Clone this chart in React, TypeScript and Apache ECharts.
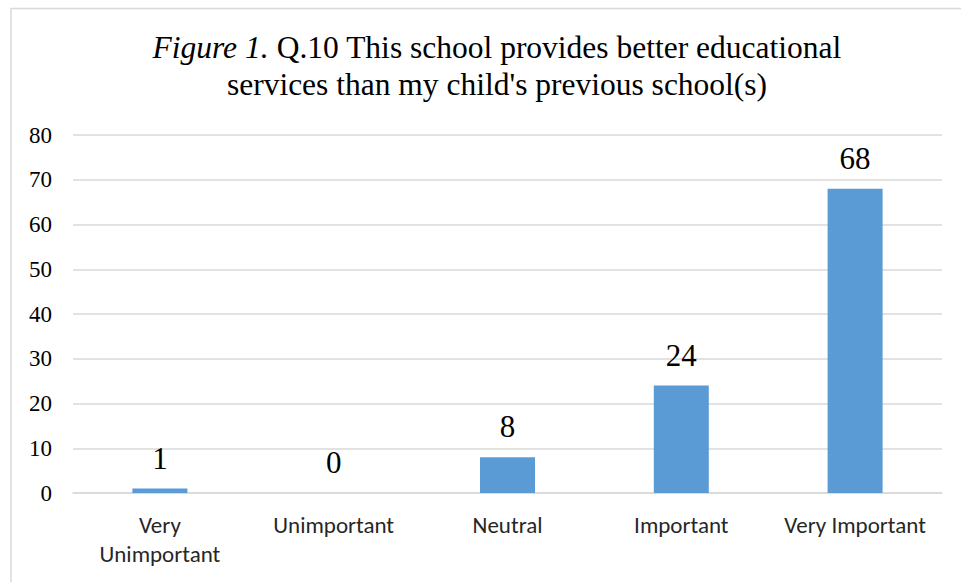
import React, { useEffect, useRef } from "react";
import * as echarts from "echarts";

const categories = ["Very\nUnimportant", "Unimportant", "Neutral", "Important", "Very Important"];
const values = [1, 0, 8, 24, 68];
const yTicks = { min: 0, max: 80, interval: 10 };

export default function App() {
  const ref = useRef<HTMLDivElement>(null);
  useEffect(() => {
    document.body.style.margin = "0";
    const chart = echarts.init(ref.current!, null, { renderer: "svg" });
    chart.setOption({
      animation: false,
      backgroundColor: "#ffffff",
      graphic: [
        {
          type: "rect",
          shape: { x: 11, y: 8.5, width: 1000, height: 700 },
          style: { fill: "none", stroke: "#D9D9D9", lineWidth: 1.5 },
          silent: true,
        },
      ],
      title: {
        text: "{i|Figure 1.} Q.10 This school provides better educational\nservices than my child's previous school(s)",
        left: 492,
        top: 24,
        textAlign: "center",
        textStyle: {
          fontFamily: "Liberation Serif",
          fontSize: 31.5,
          fontWeight: "normal",
          color: "#000000",
          lineHeight: 37,
          rich: {
            i: { fontFamily: "Liberation Serif", fontSize: 31.5, fontStyle: "italic", color: "#000000", lineHeight: 37 },
          },
        },
      },
      grid: { left: 73, right: 19, top: 135, bottom: 89, containLabel: false },
      xAxis: {
        type: "category",
        data: categories,
        axisLine: { show: true, lineStyle: { color: "#D9D9D9", width: 1.5 } },
        axisTick: { show: false },
        axisLabel: {
          fontFamily: "Carlito, Lato, sans-serif",
          fontSize: 23,
          color: "#262626",
          margin: 17,
          lineHeight: 29,
          interval: 0,
        },
      },
      yAxis: {
        type: "value",
        min: yTicks.min,
        max: yTicks.max,
        interval: yTicks.interval,
        axisLine: { show: false },
        axisTick: { show: false },
        splitLine: { lineStyle: { color: "#D9D9D9", width: 1.5 } },
        axisLabel: {
          fontFamily: "Liberation Serif",
          fontSize: 23,
          color: "#000000",
          margin: 21,
        },
      },
      series: [
        {
          type: "bar",
          data: values,
          barWidth: 55,
          itemStyle: { color: "#5B9BD5" },
          label: {
            show: true,
            position: "top",
            distance: 15,
            fontFamily: "Liberation Serif",
            fontSize: 31,
            color: "#000000",
          },
        },
      ],
    });
    return () => chart.dispose();
  }, []);
  return <div ref={ref} style={{ width: 961, height: 582 }} />;
}
